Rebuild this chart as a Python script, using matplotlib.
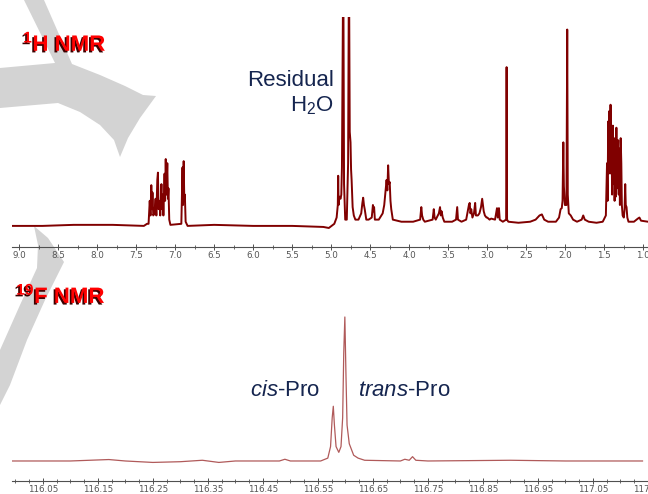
import matplotlib
matplotlib.use("Agg")
import matplotlib.pyplot as plt
import matplotlib.patheffects as pe
from matplotlib.patches import Polygon
from matplotlib.ticker import FixedLocator

plt.rcParams['font.family'] = ['Liberation Sans', 'DejaVu Sans']
plt.rcParams['mathtext.fontset'] = 'custom'
plt.rcParams['mathtext.rm'] = 'Liberation Sans'
plt.rcParams['mathtext.it'] = 'Liberation Sans:italic'
plt.rcParams['mathtext.bf'] = 'Liberation Sans:bold'

# 1H spectrum trace: (ppm, relative intensity), baseline = 0
h_trace = [
    (9.09, 0.0), (8.70, 0.0), (8.30, 0.005), (7.80, 0.005), (7.40, 0.0), (7.36, 0.01),
    # aromatic multiplets
    (7.34, 0.01), (7.325, 0.12), (7.315, 0.05), (7.305, 0.195), (7.297, 0.08), (7.29, 0.16),
    (7.28, 0.05), (7.265, 0.06), (7.25, 0.13), (7.24, 0.05), (7.228, 0.22), (7.22, 0.255),
    (7.212, 0.08), (7.20, 0.12), (7.19, 0.05), (7.175, 0.20), (7.168, 0.08), (7.158, 0.15),
    (7.15, 0.05), (7.135, 0.25), (7.128, 0.12), (7.12, 0.32), (7.112, 0.15), (7.10, 0.30),
    (7.092, 0.13), (7.085, 0.18), (7.075, 0.03), (7.06, 0.005),
    (6.92, 0.01), (6.905, 0.28), (6.898, 0.10), (6.89, 0.31), (6.882, 0.12), (6.875, 0.15),
    (6.865, 0.02), (6.84, 0.0),
    (6.50, 0.005), (6.00, 0.0), (5.50, 0.0), (5.10, -0.005), (5.03, -0.01), (4.96, 0.01),
    (4.93, 0.04),
    (4.915, 0.10), (4.91, 0.24), (4.905, 0.10), (4.895, 0.14), (4.88, 0.13), (4.87, 0.15),
    # residual water
    (4.862, 0.28), (4.845, 1.3), (4.835, 0.20), (4.82, 0.03), (4.80, 0.03), (4.783, 0.30),
    (4.772, 1.3), (4.762, 0.45), (4.752, 0.40), (4.745, 0.27), (4.738, 0.22), (4.725, 0.09),
    (4.71, 0.05), (4.69, 0.03), (4.65, 0.03),
    (4.615, 0.06), (4.60, 0.11), (4.59, 0.135), (4.58, 0.10), (4.57, 0.08), (4.55, 0.03),
    (4.52, 0.03),
    (4.48, 0.04), (4.465, 0.10), (4.458, 0.07), (4.45, 0.09), (4.44, 0.03), (4.39, 0.03),
    (4.34, 0.06), (4.32, 0.10), (4.305, 0.16), (4.29, 0.22), (4.28, 0.17), (4.27, 0.29),
    (4.26, 0.20), (4.25, 0.21), (4.24, 0.12), (4.23, 0.08), (4.21, 0.03),
    (4.10, 0.02), (3.95, 0.02), (3.86, 0.03), (3.845, 0.09), (3.835, 0.05), (3.82, 0.03),
    (3.80, 0.02),
    (3.70, 0.03), (3.685, 0.08), (3.675, 0.04), (3.66, 0.03),
    (3.62, 0.06), (3.605, 0.09), (3.595, 0.05), (3.585, 0.07), (3.57, 0.04), (3.55, 0.02),
    (3.45, 0.02),
    (3.40, 0.03), (3.385, 0.09), (3.375, 0.03), (3.33, 0.02),
    (3.27, 0.03), (3.235, 0.10), (3.225, 0.11), (3.215, 0.06), (3.205, 0.08), (3.19, 0.04),
    (3.17, 0.06), (3.155, 0.11), (3.145, 0.05), (3.12, 0.05),
    (3.10, 0.06), (3.08, 0.09), (3.065, 0.13), (3.055, 0.10), (3.045, 0.07), (3.03, 0.05),
    (3.01, 0.04), (3.00, 0.04), (2.97, 0.03), (2.95, 0.035), (2.90, 0.03),
    (2.875, 0.085), (2.865, 0.04), (2.85, 0.085), (2.84, 0.03), (2.80, 0.02),
    (2.758, 0.03), (2.752, 0.76), (2.746, 0.03), (2.73, 0.02),
    (2.60, 0.015), (2.45, 0.02), (2.38, 0.03), (2.33, 0.05), (2.30, 0.055), (2.27, 0.03),
    (2.22, 0.02), (2.12, 0.02),
    (2.08, 0.04), (2.06, 0.08), (2.045, 0.085), (2.035, 0.12), (2.025, 0.40), (2.018, 0.19),
    (2.005, 0.10), (1.985, 0.10), (1.975, 0.94), (1.968, 0.15), (1.955, 0.06), (1.93, 0.05),
    (1.90, 0.03), (1.85, 0.02),
    (1.79, 0.03), (1.77, 0.05), (1.75, 0.03), (1.70, 0.02), (1.60, 0.015), (1.52, 0.02),
    (1.48, 0.05), (1.465, 0.30), (1.458, 0.12), (1.45, 0.50), (1.443, 0.25), (1.435, 0.55),
    (1.428, 0.30), (1.42, 0.58), (1.412, 0.25), (1.405, 0.35), (1.40, 0.15), (1.39, 0.48),
    (1.382, 0.20), (1.375, 0.42), (1.368, 0.12), (1.36, 0.30), (1.353, 0.14), (1.345, 0.47),
    (1.338, 0.18), (1.33, 0.30), (1.322, 0.41), (1.315, 0.15), (1.308, 0.37), (1.30, 0.10),
    (1.29, 0.42), (1.282, 0.30), (1.275, 0.10), (1.265, 0.05),
    (1.25, 0.04), (1.24, 0.08), (1.232, 0.20), (1.225, 0.10), (1.215, 0.09), (1.205, 0.04),
    (1.19, 0.02),
    (1.12, 0.02), (1.07, 0.035), (1.05, 0.04), (1.03, 0.025), (0.94, 0.02),
]

h_ticks = [9.0, 8.5, 8.0, 7.5, 7.0, 6.5, 6.0, 5.5, 5.0, 4.5, 4.0, 3.5, 3.0, 2.5, 2.0, 1.5, 1.0]
h_tick_labels = ["9.0", "8.5", "8.0", "7.5", "7.0", "6.5", "6.0", "5.5", "5.0",
                 "4.5", "4.0", "3.5", "3.0", "2.5", "2.0", "1.5", "1.0"]

# 19F spectrum trace
f_trace = [
    (115.99, 0.0), (116.10, 0.0), (116.17, 0.01), (116.20, 0.0), (116.25, -0.01),
    (116.30, -0.005), (116.34, 0.005), (116.37, -0.01), (116.40, 0.0), (116.48, 0.0),
    (116.49, 0.012), (116.50, 0.0), (116.555, 0.0), (116.568, 0.02),
    # cis-Pro
    (116.573, 0.10), (116.576, 0.30), (116.578, 0.38), (116.580, 0.25), (116.583, 0.10),
    (116.588, 0.06), (116.592, 0.10),
    # trans-Pro
    (116.595, 0.30), (116.597, 0.75), (116.599, 1.0), (116.601, 0.60), (116.603, 0.25),
    (116.607, 0.12), (116.610, 0.09), (116.615, 0.04), (116.623, 0.02), (116.635, 0.005),
    (116.70, 0.0), (116.708, 0.012), (116.716, 0.005), (116.722, 0.03), (116.728, 0.005),
    (116.75, 0.0), (116.90, 0.005), (117.00, 0.0), (117.14, 0.0),
]

f_ticks = [116.05, 116.15, 116.25, 116.35, 116.45, 116.55, 116.65, 116.75,
           116.85, 116.95, 117.05, 117.15]
f_tick_labels = ["116.05", "116.15", "116.25", "116.35", "116.45", "116.55", "116.65",
                 "116.75", "116.85", "116.95", "117.05", "117.15"]

h_ppm, h_int = zip(*h_trace)
f_ppm, f_int = zip(*f_trace)

W, H = 648, 494
fig = plt.figure(figsize=(W / 100, H / 100), dpi=100)
fig.patch.set_facecolor("white")

# background (grey watermark shape), pixel coordinates
bg = fig.add_axes([0, 0, 1, 1], zorder=0)
bg.set_xlim(0, W)
bg.set_ylim(H, 0)
bg.axis("off")
grey = "#d3d3d3"
bg.add_patch(Polygon([(24, 0), (44, 0), (72, 64), (100, 75), (125, 86), (143, 95), (156, 96),
                      (140, 118), (128, 138), (120, 157), (114, 140), (100, 125), (80, 112),
                      (58, 103), (0, 108), (0, 68), (55, 63)],
                     closed=True, fc=grey, ec="none"))
bg.add_patch(Polygon([(34, 226), (48, 238), (64, 262), (45, 300), (27, 340), (10, 385),
                      (0, 405), (0, 350), (20, 305), (37, 268), (38, 245)],
                     closed=True, fc=grey, ec="none"))


def style_axis(ax):
    ax.set_facecolor("none")
    for s in ("left", "right", "top"):
        ax.spines[s].set_visible(False)
    ax.spines["bottom"].set_color("#505050")
    ax.spines["bottom"].set_linewidth(0.8)
    ax.set_yticks([])
    ax.tick_params(axis="x", which="both", direction="inout", colors="#505050",
                   labelcolor="#555555", labelsize=6.3, pad=1)
    ax.tick_params(axis="x", which="major", length=4, width=0.7)
    ax.tick_params(axis="x", which="minor", length=3, width=0.6)
    for lab in ax.get_xticklabels():
        lab.set_family("DejaVu Sans")


# 1H NMR panel
ax1 = fig.add_axes([12 / W, (H - 247) / H, 636 / W, 230 / H], zorder=1)
ax1.plot(h_ppm, h_int, color="#800000", lw=1.4)
ax1.set_xlim(9.09, 0.94)
ax1.set_ylim(-0.101, 1.0)
ax1.set_xticks(h_ticks)
ax1.set_xticklabels(h_tick_labels)
ax1.xaxis.set_minor_locator(FixedLocator([t - 0.25 for t in h_ticks]))
style_axis(ax1)

# 19F NMR panel
ax2 = fig.add_axes([12 / W, (H - 481) / H, 636 / W, 181 / H], zorder=1)
ax2.plot(f_ppm, f_int, color="#b05a5a", lw=0.9)
ax2.set_xlim(115.994, 117.138)
ax2.set_ylim(-0.139, 1.118)
ax2.set_xticks(f_ticks)
ax2.set_xticklabels(f_tick_labels)
ax2.xaxis.set_minor_locator(FixedLocator([116.0 + 0.025 * i for i in range(47)]))
style_axis(ax2)

# labels
shadow = [pe.withSimplePatchShadow(offset=(-1.2, -1.2), shadow_rgbFace="#3a0000", alpha=1)]
bg.text(23, 43, r"$^{\mathbf{1}}$H NMR", color="#ff0000", fontsize=16, fontweight="bold",
        va="center", ha="left", path_effects=shadow, zorder=3)
bg.text(16, 295, r"$^{\mathbf{19}}$F NMR", color="#ff0000", fontsize=16, fontweight="bold",
        va="center", ha="left", path_effects=shadow, zorder=3)

navy = "#15254f"
bg.text(334, 81, "Residual", color=navy, fontsize=16, ha="right", va="center", zorder=3)
bg.text(334, 106, r"H$_2$O", color=navy, fontsize=16, ha="right", va="center", zorder=3)
bg.text(320, 390, r"$\mathit{cis}$-Pro", color=navy, fontsize=16, ha="right", va="center", zorder=3)
bg.text(358, 390, r"$\mathit{trans}$-Pro", color=navy, fontsize=16, ha="left", va="center", zorder=3)

fig.savefig("out.png", dpi=100)
